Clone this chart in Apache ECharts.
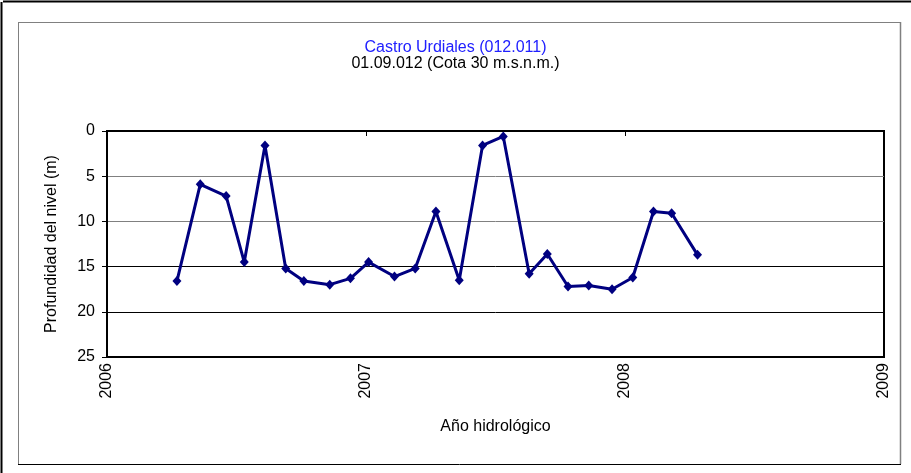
<!DOCTYPE html>
<html>
<head>
<meta charset="utf-8">
<title>Castro Urdiales (012.011)</title>
<script src="https://cdn.jsdelivr.net/npm/echarts@6/dist/echarts.min.js"></script>
<style>
  html, body { margin: 0; padding: 0; background: #fff; }
  #chart { width: 911px; height: 473px; }
</style>
</head>
<body>
<div id="chart"></div>
<script>
// fechas en años decimales (año hidrológico)
var fechas = [2006.27, 2006.36, 2006.46, 2006.53, 2006.61, 2006.69, 2006.76, 2006.86, 2006.94,
  2007.01, 2007.11, 2007.19, 2007.27, 2007.36, 2007.45, 2007.53, 2007.63, 2007.70,
  2007.78, 2007.86, 2007.95, 2008.03, 2008.11, 2008.18, 2008.28]
// profundidad del nivel (m)
var profundidad = [16.6, 5.9, 7.2, 14.5, 1.6, 15.2, 16.6, 17.0, 16.3,
  14.5, 16.1, 15.2, 8.9, 16.5, 1.6, 0.6, 15.8, 13.6,
  17.2, 17.1, 17.5, 16.2, 8.9, 9.1, 13.7]
var yTicks = [0, 5, 10, 15, 20, 25]
var xTicks = [2006, 2007, 2008, 2009]

var titulo = 'Castro Urdiales (012.011)'
var subtitulo = '01.09.012 (Cota 30 m.s.n.m.)'

var chart = echarts.init(document.getElementById('chart'))
var font = 'Liberation Sans, Arial, sans-serif'

chart.setOption({
  animation: false,
  title: {
    text: titulo,
    subtext: subtitulo,
    left: 'center',
    top: 35,
    itemGap: 0,
    textStyle: { color: '#2020ff', fontSize: 16, fontWeight: 'normal', fontFamily: font },
    subtextStyle: { color: '#000', fontSize: 16, fontFamily: font }
  },
  graphic: [
    // marco exterior
    { type: 'line', shape: { x1: 3, y1: 1.5, x2: 911, y2: 1.5 }, style: { stroke: '#000', lineWidth: 2 } },
    { type: 'line', shape: { x1: 1.5, y1: 2, x2: 1.5, y2: 473 }, style: { stroke: '#000', lineWidth: 2 } },
    // recuadro del gráfico
    { type: 'line', shape: { x1: 18, y1: 22.5, x2: 900, y2: 22.5 }, style: { stroke: '#808080', lineWidth: 1 } },
    { type: 'line', shape: { x1: 18.5, y1: 22, x2: 18.5, y2: 464 }, style: { stroke: '#808080', lineWidth: 1 } },
    { type: 'line', shape: { x1: 900.5, y1: 22, x2: 900.5, y2: 464 }, style: { stroke: '#808080', lineWidth: 1.5 } },
    { type: 'line', shape: { x1: 18, y1: 464.5, x2: 901, y2: 464.5 }, style: { stroke: '#000', lineWidth: 1 } }
  ],
  grid: {
    left: 107,
    right: 27,
    top: 131,
    bottom: 116,
    show: true,
    borderColor: '#000',
    borderWidth: 2,
    backgroundColor: '#fff'
  },
  xAxis: {
    type: 'value',
    min: xTicks[0],
    max: xTicks[xTicks.length - 1],
    interval: 1,
    name: 'Año hidrológico',
    nameLocation: 'middle',
    nameGap: 62,
    nameTextStyle: { color: '#000', fontSize: 16, fontFamily: font },
    axisLine: { show: true, lineStyle: { color: '#000', width: 2 } },
    axisTick: { show: true, length: 5, lineStyle: { color: '#000' } },
    axisLabel: {
      rotate: 90,
      margin: 6,
      color: '#000',
      fontSize: 16,
      fontFamily: font,
      formatter: function (v) { return String(v) }
    },
    splitLine: { show: false }
  },
  yAxis: {
    type: 'value',
    inverse: true,
    min: yTicks[0],
    max: yTicks[yTicks.length - 1],
    interval: 5,
    name: 'Profundidad del nivel (m)',
    nameLocation: 'middle',
    nameGap: 47,
    nameRotate: 90,
    nameTextStyle: { color: '#000', fontSize: 16, fontFamily: font },
    axisLine: { show: true, lineStyle: { color: '#000', width: 2 } },
    axisTick: { show: true, length: 5, lineStyle: { color: '#000' } },
    axisLabel: { margin: 12, color: '#000', fontSize: 16, fontFamily: font },
    splitLine: {
      show: true,
      lineStyle: { color: ['#000', '#808080', '#808080', '#000', '#000', '#000'], width: 1 }
    }
  },
  series: [{
    type: 'line',
    data: fechas.map(function (f, i) { return [f, profundidad[i]] }),
    symbol: 'diamond',
    symbolSize: [9, 10],
    showAllSymbol: true,
    lineStyle: { color: '#000080', width: 3 },
    itemStyle: { color: '#000080' }
  }]
})
</script>
</body>
</html>
